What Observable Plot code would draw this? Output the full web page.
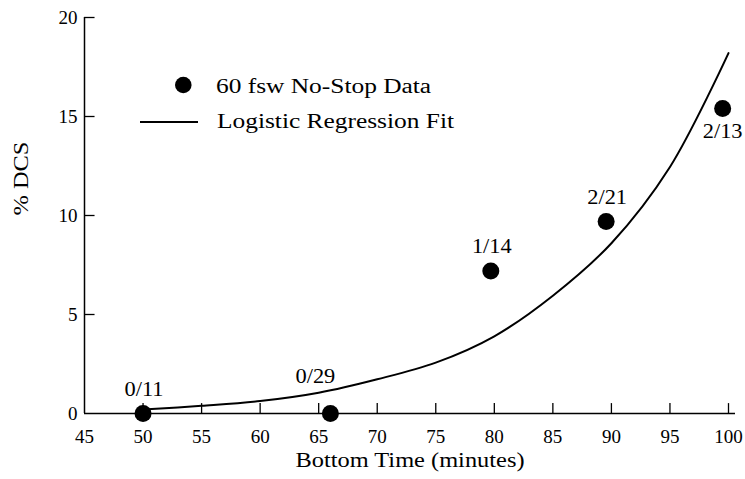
<!DOCTYPE html>
<html>
<head>
<meta charset="utf-8">
<script src="https://cdn.jsdelivr.net/npm/d3@7"></script>
<script src="https://cdn.jsdelivr.net/npm/@observablehq/plot@0.6"></script>
<style>
  html, body { margin: 0; padding: 0; background: #fff; }
  #wrap { position: relative; width: 745px; height: 479px; }
  #wrap svg { display: block; }
  #legend { position: absolute; left: 0; top: 0; pointer-events: none; font-family: 'Liberation Serif'; }
</style>
</head>
<body>
<div id="wrap"></div>
<script>
// Observed data points
const dataTime  = [50, 66, 79.7, 89.55, 99.5];
const dataPct   = [0, 0, 7.2, 9.7, 15.4];
const dataLabel = ["0/11", "0/29", "1/14", "2/21", "2/13"];

// Logistic regression fit
const fitTime = [50, 55, 60, 65, 70, 75, 80, 85, 90, 95, 100];
const fitPct  = [0.2, 0.39, 0.63, 1.05, 1.73, 2.57, 3.9, 5.95, 8.6, 12.45, 18.2];

// Ticks
const xTicks = [45, 50, 55, 60, 65, 70, 75, 80, 85, 90, 95, 100];
const yTicks = [0, 5, 10, 15, 20];

const xLabel = "Bottom Time (minutes)";
const yLabel = "% DCS";
const legendDots = "60 fsw No-Stop Data";
const legendLine = "Logistic Regression Fit";

const points = dataTime.map((t, i) => ({t, p: dataPct[i], label: dataLabel[i]}));
const fit = fitTime.map((t, i) => ({t, p: fitPct[i]}));

const W = 745, H = 479;
const mL = 84, mR = 10, mT = 17, mB = 66;
const xRange = [84, 728];
const FF = "Liberation Serif";

const chart = Plot.plot({
  width: W, height: H,
  marginLeft: mL, marginRight: mR, marginTop: mT, marginBottom: mB,
  style: {fontFamily: FF, fontSize: "20px", color: "#000", background: "#fff", overflow: "visible"},
  x: {domain: [45, 100], range: xRange},
  y: {domain: [0, 20]},
  marks: [
    Plot.axisX({ticks: xTicks, tickSize: 0, tickPadding: 16, fontSize: 19, label: null}),
    Plot.axisY({ticks: yTicks, tickSize: 0, tickPadding: 7, fontSize: 19, label: null}),
    // inward tick marks
    Plot.ruleX(xTicks.filter(d => d > 45), {x: d => d, y1: () => 0, y2: () => 0.5, stroke: "#000", strokeWidth: 1.3}),
    Plot.ruleY(yTicks.filter(d => d > 0), {y: d => d, x1: () => 45, x2: () => 45.9, stroke: "#000", strokeWidth: 1.3}),
    // axis lines
    Plot.ruleY([0], {stroke: "#000", strokeWidth: 1.5}),
    Plot.ruleX([45], {stroke: "#000", strokeWidth: 1.5}),
    // fit curve
    Plot.line(fit, {x: "t", y: "p", curve: "catmull-rom", stroke: "#000", strokeWidth: 2}),
    // observed points
    Plot.dot(points, {x: "t", y: "p", r: 8.5, fill: "#000", stroke: "none"}),
    // labels above / below points
    Plot.text(points.filter(d => ["0/11", "1/14", "2/21"].includes(d.label)), {x: "t", y: "p", text: "label", dy: -24, dx: 1, fontSize: 20, fill: "#000"}),
    Plot.text(points.filter(d => d.label === "0/29"), {x: "t", y: "p", text: "label", dy: -37, dx: -15, fontSize: 20, fill: "#000"}),
    Plot.text(points.filter(d => d.label === "2/13"), {x: "t", y: "p", text: "label", dy: 23, dx: 0, fontSize: 20, fill: "#000"}),
    // axis titles
    Plot.text([xLabel], {frameAnchor: "bottom", dy: 53, fontSize: 20, fill: "#000"}),
    Plot.text([yLabel], {frameAnchor: "left", dx: -63, rotate: -90, fontSize: 20, fill: "#000"})
  ]
});

const wrap = document.getElementById("wrap");
wrap.appendChild(chart);

// Legend overlay (inside the plot area, top-left)
const ns = "http://www.w3.org/2000/svg";
const lg = document.createElementNS(ns, "svg");
lg.setAttribute("id", "legend");
lg.setAttribute("width", W);
lg.setAttribute("height", H);
lg.innerHTML = `
  <circle cx="183.3" cy="85" r="8.3" fill="#000"></circle>
  <text x="216" y="93" font-size="20" fill="#000">${legendDots}</text>
  <line x1="140" x2="198" y1="122" y2="122" stroke="#000" stroke-width="2"></line>
  <text x="217" y="128" font-size="20" fill="#000">${legendLine}</text>
`;
wrap.appendChild(lg);

// Wide (Mincho-like) typesetting: stretch text horizontally about its anchor
function stretchFor(s) {
  if (/^\d+$/.test(s)) return 1.0;          // tick numbers
  if (/^\d+\/\d+$/.test(s)) return 1.12;    // data labels
  if (s === legendDots || s === legendLine) return 1.27;
  return 1.22;                              // axis titles
}
wrap.querySelectorAll("text").forEach(t => {
  const s = stretchFor(t.textContent.trim());
  if (s === 1) return;
  const bb = t.getBBox();
  const anchor = getComputedStyle(t).textAnchor;
  const ax = anchor === "middle" ? bb.x + bb.width / 2 : anchor === "end" ? bb.x + bb.width : bb.x;
  const tr = t.getAttribute("transform") || "";
  t.setAttribute("transform", `${tr} translate(${ax},0) scale(${s},1) translate(${-ax},0)`.trim());
});
</script>
</body>
</html>
